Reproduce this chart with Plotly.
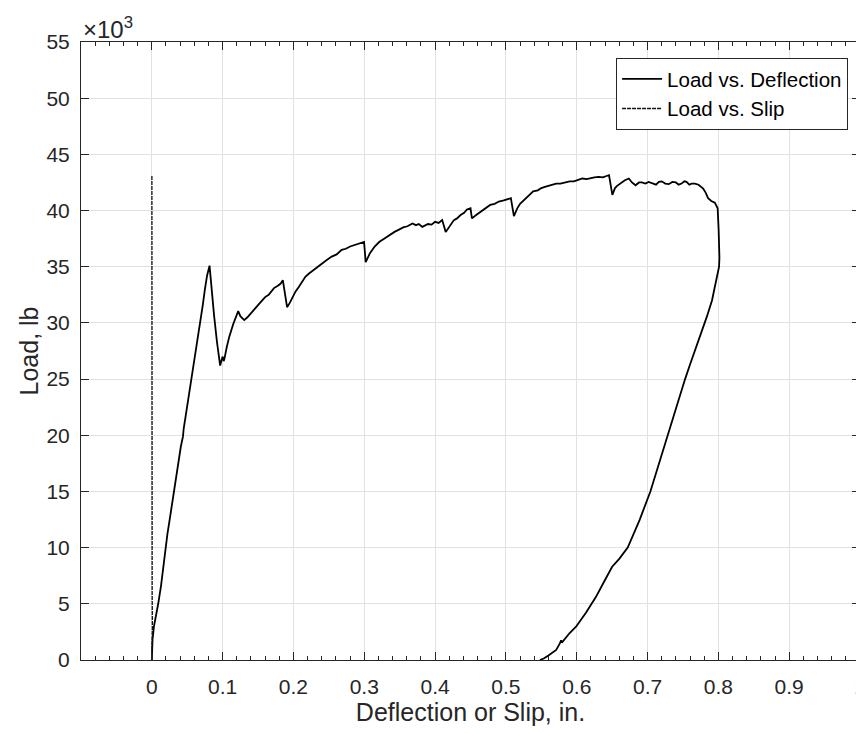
import plotly.graph_objects as go

# ---------------- data ----------------
# Load vs. Deflection (in., lb)
defl_x = [0.000, 0.001, 0.003, 0.006, 0.009, 0.013, 0.016, 0.019, 0.022, 0.025,
          0.028, 0.031, 0.034, 0.037, 0.041, 0.044, 0.045, 0.048, 0.051, 0.054,
          0.056, 0.057, 0.060, 0.063, 0.066, 0.0675, 0.069, 0.072, 0.075, 0.078,
          0.0815, 0.084, 0.088, 0.092, 0.0965, 0.099, 0.100, 0.1015, 0.1025, 0.106,
          0.1095, 0.115, 0.119, 0.122, 0.125, 0.1305, 0.135, 0.140, 0.146, 0.1515,
          0.156, 0.160, 0.165, 0.169, 0.1725, 0.178, 0.182, 0.185, 0.191, 0.195,
          0.198, 0.203, 0.2075, 0.2125, 0.2168, 0.222, 0.228, 0.234, 0.240, 0.247,
          0.254, 0.261, 0.268, 0.274, 0.280, 0.285, 0.290, 0.295, 0.2997, 0.302,
          0.308, 0.3147, 0.321, 0.328, 0.335, 0.3427, 0.349, 0.355, 0.361, 0.368,
          0.373, 0.377, 0.382, 0.386, 0.390, 0.395, 0.400, 0.405, 0.410, 0.415,
          0.421, 0.4266, 0.431, 0.436, 0.441, 0.445, 0.450, 0.452, 0.458, 0.465,
          0.471, 0.4778, 0.484, 0.490, 0.497, 0.503, 0.507, 0.5113, 0.516, 0.520,
          0.527, 0.533, 0.5385, 0.545, 0.550, 0.555, 0.561, 0.566, 0.571, 0.577,
          0.584, 0.590, 0.596, 0.602, 0.608, 0.614, 0.620, 0.625, 0.631, 0.637,
          0.641, 0.6456, 0.6503, 0.654, 0.657, 0.661, 0.664, 0.668, 0.6736, 0.678,
          0.683, 0.688, 0.692, 0.697, 0.7015, 0.707, 0.712, 0.716, 0.720, 0.725,
          0.730, 0.735, 0.740, 0.744, 0.748, 0.752, 0.755, 0.759, 0.762, 0.767,
          0.772, 0.7785, 0.782, 0.7855, 0.790, 0.795, 0.799, 0.8004, 0.8018, 0.8015,
          0.801, 0.797, 0.791, 0.784, 0.777, 0.767, 0.760, 0.753, 0.741, 0.729,
          0.717, 0.704, 0.689, 0.672, 0.660, 0.650, 0.638, 0.627, 0.613, 0.599,
          0.590, 0.582, 0.579, 0.578, 0.576, 0.571, 0.565, 0.560, 0.554, 0.548]
defl_load = [0, 1800, 3000, 3900, 5000, 6600, 8200, 10000, 11200, 12400,
             13700, 15000, 16200, 17400, 19000, 19900, 20600, 21800, 23000, 24200,
             24800, 25600, 26700, 27900, 29000, 29700, 30200, 31600, 33000, 34200,
             35100, 33100, 30600, 28300, 26200, 26800, 27000, 26600, 26800, 27900,
             28800, 29900, 30600, 31050, 30600, 30250, 30500, 30900, 31300, 31700,
             32000, 32300, 32500, 32800, 33100, 33300, 33500, 33800, 31400, 31800,
             32200, 32800, 33200, 33700, 34100, 34400, 34700, 35000, 35300, 35600,
             35900, 36100, 36500, 36600, 36800, 36900, 37000, 37050, 37200, 35400,
             36200, 36800, 37200, 37500, 37800, 38100, 38300, 38500, 38600, 38850,
             38700, 38800, 38550, 38700, 38800, 38750, 39000, 38900, 39150, 38100,
             38600, 39150, 39300, 39600, 39800, 40100, 40200, 39300, 39600, 39900,
             40200, 40500, 40600, 40800, 40900, 41000, 41100, 39500, 40200, 40600,
             41000, 41400, 41700, 41800, 42000, 42100, 42200, 42300, 42400, 42400,
             42500, 42600, 42600, 42700, 42850, 42800, 42900, 42950, 43000, 42950,
             43050, 43150, 41400, 42000, 42200, 42400, 42550, 42700, 42850, 42500,
             42250, 42500, 42500, 42400, 42550, 42400, 42300, 42550, 42600, 42400,
             42350, 42550, 42500, 42300, 42400, 42600, 42550, 42300, 42400, 42400,
             42300, 41960, 41600, 41100, 40850, 40700, 40200, 38250, 36500, 35800,
             35000, 33800, 32000, 30600, 29400, 27600, 26300, 25000, 22500, 20000,
             17500, 15000, 12500, 10000, 9000, 8300, 6900, 5600, 4200, 2960,
             2400, 1850, 1550, 1750, 1450, 900, 600, 400, 150, 0]

# Load vs. Slip (in., lb)
slip_x = [0.0000, 0.0006, 0.0008, 0.0005, 0.0004, 0.0003, 0.0002, 0.0002, 0.0001, 0.0001]
slip_load = [0, 1500, 3000, 6000, 10000, 15000, 22000, 30000, 38000, 43100]

# tick labels
x_tickvals = [0, 0.1, 0.2, 0.3, 0.4, 0.5, 0.6, 0.7, 0.8, 0.9, 1.0]
x_ticktext = ["0", "0.1", "0.2", "0.3", "0.4", "0.5", "0.6", "0.7", "0.8", "0.9", "1"]
y_tickvals = [0, 5000, 10000, 15000, 20000, 25000, 30000, 35000, 40000, 45000, 50000, 55000]
y_ticktext = ["0", "5", "10", "15", "20", "25", "30", "35", "40", "45", "50", "55"]

# ---------------- figure ----------------
FONT = "Liberation Sans, Arial, sans-serif"
AX = "#262626"
GRID = "#e1e1e1"

fig = go.Figure()
fig.add_trace(go.Scatter(x=defl_x, y=defl_load, mode="lines", name="Load vs. Deflection",
                         line=dict(color="#000000", width=1.8)))
fig.add_trace(go.Scatter(x=slip_x, y=slip_load, mode="lines", name="Load vs. Slip",
                         line=dict(color="#111111", width=1.3, dash="4px,1px")))

# the page body adds an 8 px offset, margins compensate for it
fig.update_layout(
    width=864, height=733,
    margin=dict(l=73, r=6, t=34, b=81),
    plot_bgcolor="white", paper_bgcolor="white",
    font=dict(family=FONT, color=AX, size=21),
    showlegend=True,
    legend=dict(x=0.9847, y=0.9741, xanchor="right", yanchor="top",
                bgcolor="white", bordercolor=AX, borderwidth=1,
                font=dict(size=20.5, color="#000000"),
                tracegroupgap=0, itemwidth=40),
)

fig.update_xaxes(
    range=[-0.1, 1.0],
    tickmode="array", tickvals=x_tickvals, ticktext=x_ticktext,
    ticks="inside", ticklen=8, tickcolor=AX, tickwidth=1,
    ticklabelstandoff=8,
    showline=True, linecolor=AX, linewidth=1, mirror="ticks",
    showgrid=True, gridcolor=GRID, gridwidth=1, zeroline=False,
    minor=dict(tickmode="linear", tick0=0, dtick=0.02, ticks="inside",
               ticklen=4, tickcolor=AX, showgrid=False),
    title=dict(text="Deflection or Slip, in.", font=dict(size=25), standoff=0),
)
fig.update_yaxes(
    range=[0, 55000],
    tickmode="array", tickvals=y_tickvals, ticktext=y_ticktext,
    ticks="inside", ticklen=8, tickcolor=AX, tickwidth=1,
    ticklabelstandoff=6,
    showline=True, linecolor=AX, linewidth=1, mirror="ticks",
    showgrid=True, gridcolor=GRID, gridwidth=1, zeroline=False,
    title=dict(text="Load, lb", font=dict(size=25), standoff=0),
)

# exponent label of the y axis
fig.add_annotation(text="×10<sup>3</sup>", xref="paper", yref="paper", x=0, y=1,
                   xanchor="left", yanchor="bottom", showarrow=False,
                   font=dict(size=24, color=AX), yshift=-3)

fig.write_html("out.html")
